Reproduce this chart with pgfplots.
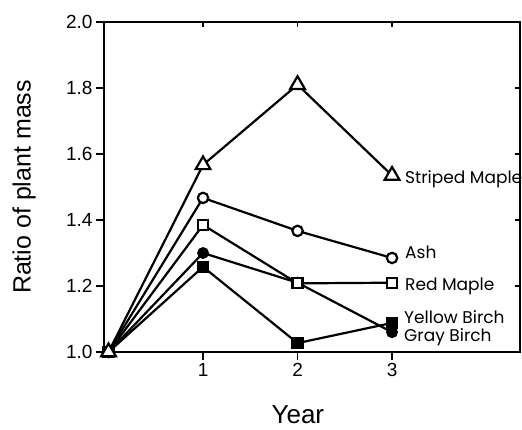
\documentclass[border=0pt]{standalone}
\usepackage{fontspec}
\setmainfont{Liberation Sans}
\newfontfamily\geofont{Poppins}
\usepackage{pgfplots}
\pgfplotsset{compat=1.18}

\pgfplotsset{
  plantaxis/.style={
    width=416pt, height=330pt,
    scale only axis,
    xmin=-0.048, xmax=4.354,
    ymin=1.0, ymax=2.0,
    clip=false,
    axis line style={line width=1.8pt},
    every tick/.style={line width=1.5pt, black},
    /pgf/number format/assume math mode=true,
    tick label style={font=\fontsize{19}{19}\selectfont},
  }
}
\newcommand{\spname}[1]{{\geofont\fontsize{17}{18}\selectfont #1}}

\begin{document}
\begin{tikzpicture}
\useasboundingbox (-104pt,-77pt) rectangle (418pt,352pt);

% top and right: ticks inside, no labels
\begin{axis}[plantaxis,
    xtick={1,2,3}, ytick={1.2,1.4,1.6,1.8},
    xtick pos=right, ytick pos=right,
    tick align=inside, major tick length=5pt,
    xticklabels={}, yticklabels={}]
\end{axis}

\begin{axis}[plantaxis,
    xtick={1,2,3}, ytick={1.0,1.2,1.4,1.6,1.8,2.0},
    xtick pos=left, ytick pos=left,
    tick align=outside, major tick length=8pt,
    yticklabel style={/pgf/number format/.cd, fixed, fixed zerofill, precision=1},
    xlabel={Year}, ylabel={Ratio of plant mass},
    xlabel style={font=\fontsize{26}{26}\selectfont, at={(axis description cs:0.466,-0.19)}, anchor=center},
    ylabel style={font=\fontsize{25}{25}\selectfont, at={(axis description cs:-0.192,0.5)}, anchor=center},
    every axis plot/.append style={line width=2.2pt, black}]

% Yellow Birch
\addplot[mark=square*, mark size=5pt, mark options={solid, fill=black}]
  coordinates {(0,1.0) (1,1.258) (2,1.027) (3,1.088)};
% Gray Birch
\addplot[mark=*, mark size=4.8pt, mark options={solid, fill=black}]
  coordinates {(0,1.0) (1,1.300) (2,1.210) (3,1.060)};
% Red Maple
\addplot[mark=square*, mark size=5pt, mark options={solid, fill=white}]
  coordinates {(0,1.0) (1,1.385) (2,1.208) (3,1.210)};
% Ash
\addplot[mark=*, mark size=5.2pt, mark options={solid, fill=white}]
  coordinates {(0,1.0) (1,1.467) (2,1.367) (3,1.285)};
% Striped Maple
\addplot[mark=triangle*, mark size=8.5pt, mark options={solid, fill=white}]
  coordinates {(0,1.0) (1,1.567) (2,1.810) (3,1.535)};

\node[anchor=west, inner sep=0pt] at (axis cs:3.137,1.524) {\spname{Striped Maple}};
\node[anchor=west, inner sep=0pt] at (axis cs:3.137,1.303) {\spname{Ash}};
\node[anchor=west, inner sep=0pt] at (axis cs:3.137,1.200) {\spname{Red Maple}};
\node[anchor=west, inner sep=0pt] at (axis cs:3.127,1.106) {\spname{Yellow Birch}};
\node[anchor=west, inner sep=0pt] at (axis cs:3.127,1.045) {\spname{Gray Birch}};
\end{axis}
\end{tikzpicture}
\end{document}
